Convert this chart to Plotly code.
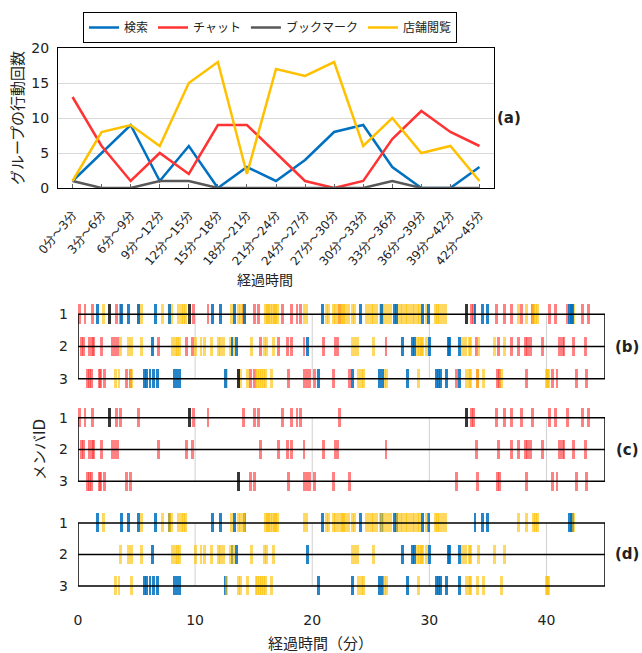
import plotly.graph_objects as go

W, H = 642, 653

# ---------------- data ----------------
intervals = ["0分～3分", "3分～6分", "6分～9分", "9分～12分", "12分～15分", "15分～18分",
             "18分～21分", "21分～24分", "24分～27分", "27分～30分", "30分～33分",
             "33分～36分", "36分～39分", "39分～42分", "42分～45分"]
search_counts = [1, 5, 9, 1, 6, 0, 3, 1, 4, 8, 9, 3, 0, 0, 3]
chat_counts = [13, 6, 1, 5, 2, 9, 9, 5, 1, 0, 1, 7, 11, 8, 6]
bookmark_counts = [1, 0, 0, 1, 1, 0, 0, 0, 0, 0, 0, 1, 0, 0, 0]
store_counts = [1, 8, 9, 6, 15, 18, 2, 17, 16, 18, 6, 10, 5, 6, 1]

members = [1, 2, 3]
time_ticks = [0, 10, 20, 30, 40]

# event times (minutes) per member
chat_m1 = [0.1, 0.6, 1.2, 3.25, 3.6, 5.15, 9.85, 11.1, 14.1, 15.1, 15.4, 17.5, 18.2, 18.7, 19.0,
           22.3, 33.6, 33.8, 35.7, 36.4, 37.0, 37.9, 38.8, 40.3, 40.8, 41.8, 43.1, 43.6]
chat_m2 = [0.3, 0.5, 1.0, 1.2, 1.3, 2.0, 2.9, 3.15, 3.35, 6.85, 9.3, 9.8, 15.55, 17.1, 17.9, 18.2,
           19.3, 20.95, 21.95, 22.2, 26.3, 34.0, 35.9, 37.0, 37.6, 38.2, 38.35, 38.6, 39.7, 41.1,
           41.35, 41.5, 42.3, 43.3]
chat_m3 = [0.8, 0.95, 1.15, 1.8, 1.95, 2.25, 4.15, 4.45, 14.7, 15.1, 17.95, 19.3, 19.5, 19.8, 20.2,
           21.8, 23.2, 32.3, 34.1, 35.8, 36.0, 38.3, 40.5, 40.9, 42.6, 43.4]

bookmark_m1 = [2.7, 9.5, 33.2]
bookmark_m2 = []
bookmark_m3 = [13.7]

search_m1 = [1.7, 3.7, 4.35, 5.2, 6.65, 7.8, 11.5, 12.2, 13.4, 14.2, 20.9, 24.1, 25.95, 27.05,
             27.2, 29.4, 29.9, 33.9, 34.5, 35.0, 42.0, 42.1, 42.2]
search_m2 = [6.35, 13.15, 13.55, 19.6, 27.7, 28.6, 28.7, 30.05, 31.6, 31.7, 32.6]
search_m3 = [5.65, 5.85, 6.15, 6.45, 6.75, 8.2, 8.45, 8.7, 12.6, 20.5, 23.4, 25.75, 26.0, 28.1,
             30.65, 30.8, 30.95, 31.45, 32.6]

store_m1 = [2.2, 5.4, 7.25, 7.8, 8.0, 8.6, 8.8, 9.0, 9.2, 13.1, 13.7, 13.9, 14.1, 14.25,
            16.0, 16.15, 16.3, 16.45, 16.6, 16.75, 16.9, 17.05, 19.3, 19.5,
            21.2, 21.4, 21.8, 22.0, 22.2, 22.4, 22.55, 22.7, 22.85, 23.1, 23.4, 23.6,
            24.65, 24.85, 25.05, 25.25, 25.45, 25.8, 26.0, 26.2, 26.45, 26.7,
            27.3, 27.5, 27.7, 27.95, 28.15, 28.35, 28.55, 28.75, 28.95, 29.15, 29.75,
            30.5, 30.7, 30.9, 31.1, 31.4, 37.6, 38.3, 38.9, 39.05, 39.2, 42.3]
store_m2 = [3.65, 4.3, 4.6, 5.4, 8.1, 8.3, 8.5, 8.7, 10.0, 10.5, 10.8, 11.4, 12.0, 12.2, 12.4,
            13.0, 13.3, 14.8, 15.9, 16.1, 16.7, 23.4, 23.65, 23.9, 25.2, 28.95, 29.15, 29.3,
            29.45, 29.75, 32.8, 33.1, 33.4, 33.5, 34.2, 35.6, 36.4]
store_m3 = [3.2, 3.5, 4.6, 12.7, 13.7, 13.9, 14.5, 15.2, 15.35, 15.5, 15.65, 15.8, 16.0, 16.55,
            23.95, 24.2, 24.4, 26.2, 26.35, 29.1, 33.2, 33.4, 33.5, 34.1, 34.6, 36.2,
            40.0, 40.1, 40.2]

# ---------------- style ----------------
FONT = "DejaVu Sans, Noto Sans CJK JP, sans-serif"
C_SEARCH = "#0070C0"
C_CHAT = "#FF3333"
C_BOOK = "#595959"
C_STORE = "#FFC000"
A_SEARCH = "rgba(0,112,192,0.85)"
A_CHAT = "rgba(255,51,51,0.62)"
A_BOOK = "rgba(20,20,20,0.85)"
A_STORE = "rgba(255,192,0,0.62)"
EVENT_W = 0.25
BAR_H = 0.6


def fx(p):
    return p / W


def fy(p):
    return 1 - p / H


fig = go.Figure()

# panel (a): group counts
for name, vals, col in [("検索", search_counts, C_SEARCH), ("チャット", chat_counts, C_CHAT),
                        ("ブックマーク", bookmark_counts, C_BOOK), ("店舗閲覧", store_counts, C_STORE)]:
    fig.add_trace(go.Scatter(x=intervals, y=vals, mode="lines", name=name,
                             line=dict(color=col, width=2.5), xaxis="x", yaxis="y"))


def add_events(times, member, color, ax):
    if not times:
        return
    fig.add_trace(go.Bar(orientation="h", y=[member] * len(times), x=[EVENT_W] * len(times),
                         base=[t - EVENT_W / 2 for t in times], width=BAR_H,
                         marker=dict(color=color, line=dict(width=0)), showlegend=False,
                         hoverinfo="skip", xaxis="x" + ax, yaxis="y" + ax))


chat = [chat_m1, chat_m2, chat_m3]
book = [bookmark_m1, bookmark_m2, bookmark_m3]
search = [search_m1, search_m2, search_m3]
store = [store_m1, store_m2, store_m3]

# panel (b): all actions
for m, c, s, se, b in zip(members, chat, store, search, book):
    add_events(c, m, A_CHAT, "2")
    add_events(s, m, A_STORE, "2")
    add_events(se, m, A_SEARCH, "2")
    add_events(b, m, A_BOOK, "2")
# panel (c): chat + bookmark
for m, c, b in zip(members, chat, book):
    add_events(c, m, A_CHAT, "3")
    add_events(b, m, A_BOOK, "3")
# panel (d): search + store browsing
for m, se, s in zip(members, search, store):
    add_events(se, m, A_SEARCH, "4")
    add_events(s, m, A_STORE, "4")

layout = dict(
    width=W, height=H, margin=dict(l=0, r=0, t=0, b=0, pad=0, autoexpand=False),
    paper_bgcolor="white", plot_bgcolor="rgba(0,0,0,0)",
    font=dict(family=FONT, size=13, color="#222"),
    barmode="overlay", bargap=0,
    legend=dict(orientation="h", x=fx(270), y=fy(12), xanchor="center", yanchor="top",
                bordercolor="black", borderwidth=1, font=dict(size=12),
                itemwidth=30, tracegroupgap=0),
    xaxis=dict(domain=[fx(58), fx(494)], anchor="y", type="category", range=[-0.5, 14.5],
               tickangle=-50, tickfont=dict(size=12), showline=True, mirror=True,
               linecolor="black", linewidth=1.2, ticks="inside", ticklen=4, tickcolor="#666",
               showgrid=False, automargin=False, ticklabelstandoff=14),
    yaxis=dict(domain=[fy(188), fy(48)], anchor="x", range=[0, 20], dtick=5,
               tickfont=dict(size=14), showline=True, mirror=True, linecolor="black",
               linewidth=1.2, gridcolor="#d9d9d9", zeroline=False, ticklabelstandoff=5,
               automargin=False),
)

panels = {"2": (298.2, 394.8), "3": (401.8, 497.2), "4": (507.25, 601.75)}
shapes = []
for ax, (top, bot) in panels.items():
    layout["xaxis" + ax] = dict(domain=[fx(78), fx(605)], anchor="y" + ax, range=[0, 45],
                                showgrid=False, zeroline=False, showline=False,
                                showticklabels=(ax == "4"), tickvals=time_ticks,
                                tickfont=dict(size=14), ticks="", ticklabelstandoff=8,
                                automargin=False)
    layout["yaxis" + ax] = dict(domain=[fy(bot), fy(top)], anchor="x" + ax, range=[3.5, 0.5],
                                tickvals=members, showgrid=False, zeroline=False,
                                showline=False, tickfont=dict(size=14), ticklabelstandoff=9,
                                automargin=False)
    for t in time_ticks[1:]:
        shapes.append(dict(type="line", xref="x" + ax, yref="y" + ax, x0=t, x1=t,
                           y0=members[0], y1=members[-1], layer="below",
                           line=dict(color="#d0d0d0", width=1)))
    shapes.append(dict(type="rect", xref="x" + ax, yref="y" + ax, x0=0, x1=45,
                       y0=members[0], y1=members[-1], layer="above",
                       line=dict(color="black", width=1.5)))
    shapes.append(dict(type="line", xref="x" + ax, yref="y" + ax, x0=0, x1=45,
                       y0=members[1], y1=members[1], layer="above",
                       line=dict(color="black", width=1.5)))
layout["shapes"] = shapes

ann = []


def add_text(text, px, py, size=14, angle=0):
    ann.append(dict(text=text, x=fx(px), y=fy(py), xref="paper", yref="paper",
                    xanchor="center", yanchor="middle", textangle=angle,
                    showarrow=False, font=dict(size=size)))


add_text("グループの行動回数", 18, 118, size=15, angle=-90)
add_text("経過時間", 265, 280, size=14)
add_text("メンバID", 40, 450, size=15, angle=-90)
add_text("経過時間（分）", 320, 644, size=15)
for lab, px, py in [("(a)", 509, 118), ("(b)", 627, 347), ("(c)", 627, 450), ("(d)", 627, 554)]:
    add_text("<b>%s</b>" % lab, px, py, size=15)
layout["annotations"] = ann

fig.update_layout(**layout)
fig.write_html("out.html")
